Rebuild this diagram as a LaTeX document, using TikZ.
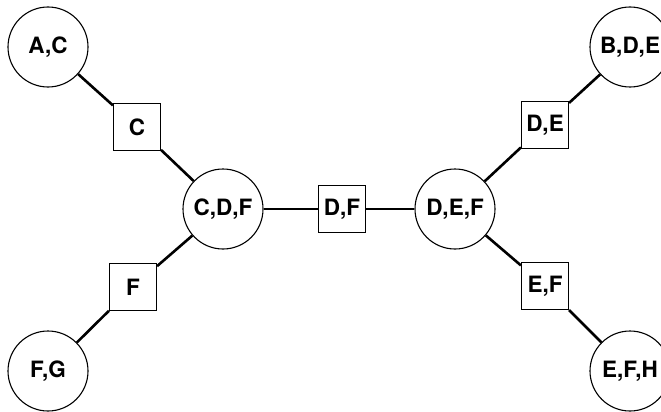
\documentclass[tikz,border=0pt]{standalone}
\usepackage{fontspec}
\setmainfont{TeX Gyre Heros}
\begin{document}
\begin{tikzpicture}[x=1pt,y=-1pt,
    clique/.style={circle, draw, line width=1.1pt, minimum size=80pt, inner sep=0pt,
        font=\fontsize{22.5}{24}\selectfont\bfseries},
    sepset/.style={rectangle, draw, line width=1.1pt, minimum size=47pt, inner sep=0pt,
        font=\fontsize{22.5}{24}\selectfont\bfseries},
    link/.style={line width=2.6pt}]
    \useasboundingbox (0,0) rectangle (661,412);
    % cliques
    \node[clique] (ac) at (48,47) {A,C};
    \node[clique] (bde) at (630,47) {B,D,E};
    \node[clique] (cdf) at (223,209) {C,D,F};
    \node[clique] (def) at (455,209) {D,E,F};
    \node[clique] (fg) at (48,371) {F,G};
    \node[clique] (efh) at (630,371) {E,F,H};
    % separators
    \node[sepset] (c) at (137,127) {C};
    \node[sepset] (de) at (545,125) {D,E};
    \node[sepset] (df) at (342,209) {D,F};
    \node[sepset] (f) at (133,287) {F};
    \node[sepset] (ef) at (545,286) {E,F};
    % links
    \draw[link] (ac) -- (c);
    \draw[link] (c) -- (cdf);
    \draw[link] (bde) -- (de);
    \draw[link] (de) -- (def);
    \draw[link] (cdf) -- (df);
    \draw[link] (df) -- (def);
    \draw[link] (cdf) -- (f);
    \draw[link] (f) -- (fg);
    \draw[link] (def) -- (ef);
    \draw[link] (ef) -- (efh);
\end{tikzpicture}
\end{document}
